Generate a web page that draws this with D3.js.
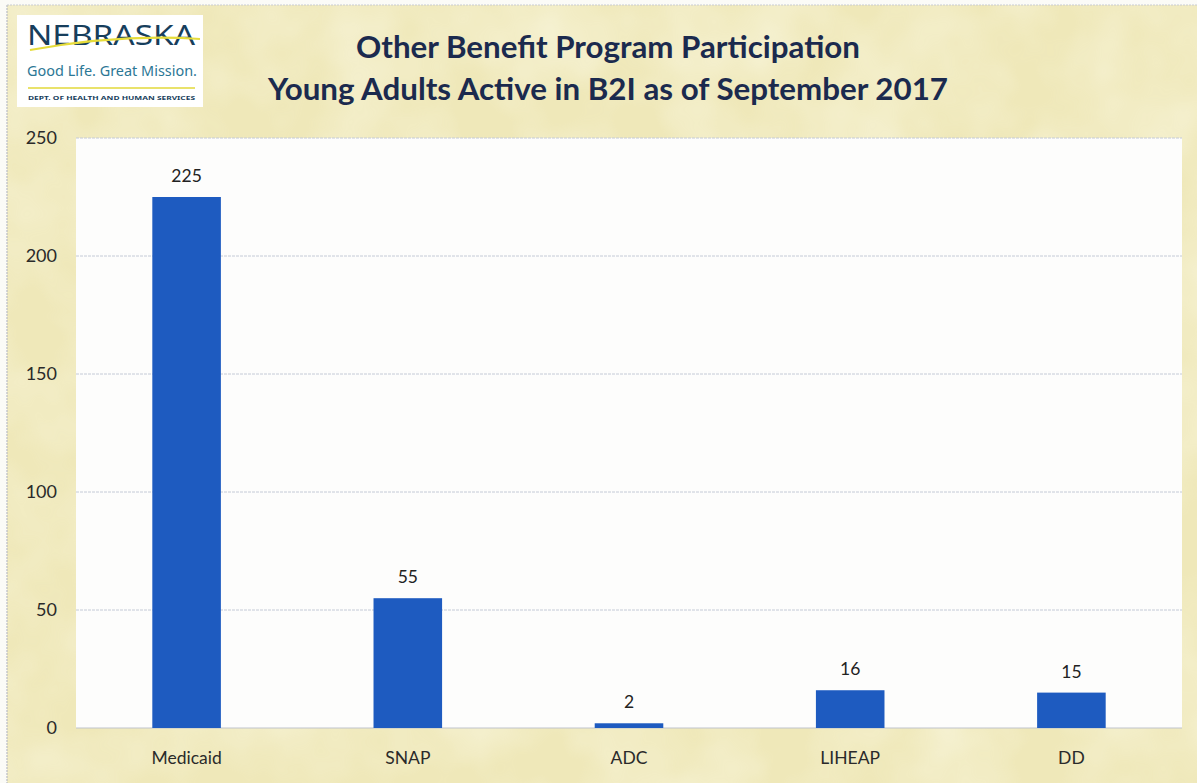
<!DOCTYPE html>
<html>
<head>
<meta charset="utf-8">
<script src="https://cdn.jsdelivr.net/npm/d3@7"></script>
<style>
  html, body { margin: 0; padding: 0; background: #ffffff; }
  svg { display: block; }
</style>
</head>
<body>
<svg id="chart" width="1197" height="783"></svg>
<script>
// Program participation counts
const programs = ["Medicaid", "SNAP", "ADC", "LIHEAP", "DD"];
const participants = [225, 55, 2, 16, 15];
const yTicks = [0, 50, 100, 150, 200, 250];
const titleLines = [
  "Other Benefit Program Participation",
  "Young Adults Active in B2I as of September 2017"
];

const W = 1197, H = 783;
const plot = { left: 76, right: 1182, top: 138, bottom: 728 };
const svg = d3.select("#chart");
const defs = svg.append("defs");

// Paper-like mottled background
const f = defs.append("filter").attr("id", "paper").attr("x", 0).attr("y", 0).attr("width", "100%").attr("height", "100%");
f.append("feTurbulence").attr("type", "fractalNoise").attr("baseFrequency", 0.012).attr("numOctaves", 3).attr("seed", 4).attr("result", "n");
f.append("feColorMatrix").attr("in", "n").attr("type", "matrix")
  .attr("values", "0 0 0 0 1  0 0 0 0 1  0 0 0 0 0.92  0 0 0 -1.1 0.75");

svg.append("rect").attr("width", W).attr("height", H).attr("fill", "#fbfbf7");
svg.append("rect").attr("x", 7).attr("y", 5).attr("width", W - 7).attr("height", H - 5).attr("fill", "#efe8b9");
svg.append("rect").attr("x", 7).attr("y", 5).attr("width", W - 7).attr("height", H - 5).attr("filter", "url(#paper)").attr("opacity", 0.6);
svg.append("line").attr("x1", 7).attr("x2", 7).attr("y1", 5).attr("y2", H)
  .attr("stroke", "#b9bcc4").attr("stroke-width", 1.2).attr("stroke-dasharray", "2,1");
svg.append("line").attr("x1", 7).attr("x2", W).attr("y1", 5).attr("y2", 5)
  .attr("stroke", "#c9ccd2").attr("stroke-width", 1).attr("stroke-dasharray", "2,1");

// Logo block
const logo = svg.append("g");
logo.append("rect").attr("x", 17).attr("y", 15).attr("width", 186).attr("height", 92).attr("fill", "#ffffff");
logo.append("text").attr("x", 27).attr("y", 45).attr("font-family", "'Noto Sans', sans-serif")
  .attr("font-size", 28).attr("font-weight", 400).attr("fill", "#173e5c")
  .attr("textLength", 168).attr("lengthAdjust", "spacingAndGlyphs").text("NEBRASKA");
logo.append("path").attr("d", "M30,50 C80,41 140,35 200,39").attr("fill", "none")
  .attr("stroke", "#e6dc3a").attr("stroke-width", 2.2);
logo.append("text").attr("x", 27).attr("y", 76).attr("font-family", "'Noto Sans', sans-serif")
  .attr("font-size", 13.5).attr("fill", "#2c7795").attr("textLength", 170)
  .attr("lengthAdjust", "spacingAndGlyphs").text("Good Life. Great Mission.");
logo.append("line").attr("x1", 28).attr("x2", 195).attr("y1", 88).attr("y2", 88)
  .attr("stroke", "#e2d93a").attr("stroke-width", 1.6);
logo.append("text").attr("x", 28).attr("y", 100).attr("font-family", "'Noto Sans', sans-serif")
  .attr("font-size", 6).attr("font-weight", 700).attr("fill", "#173e5c").attr("textLength", 167)
  .attr("lengthAdjust", "spacingAndGlyphs").text("DEPT. OF HEALTH AND HUMAN SERVICES");

// Title
svg.append("g").selectAll("text").data(titleLines).join("text")
  .attr("x", 608).attr("y", (d, i) => 58 + i * 42)
  .attr("text-anchor", "middle")
  .attr("font-family", "Lato, 'Open Sans', sans-serif").attr("font-weight", 700)
  .attr("font-size", 31.3).attr("fill", "#1b2a4e")
  .text(d => d);

// Scales
const x = d3.scaleBand().domain(programs).range([plot.left, plot.right])
  .paddingInner(0.69).paddingOuter(0.345);
const y = d3.scaleLinear().domain([0, 250]).range([plot.bottom, plot.top]);

// Plot area
svg.append("rect").attr("x", plot.left).attr("y", plot.top)
  .attr("width", plot.right - plot.left).attr("height", plot.bottom - plot.top)
  .attr("fill", "#fdfdfc");

// Gridlines
svg.append("g").selectAll("line").data(yTicks.filter(t => t > 0)).join("line")
  .attr("x1", plot.left).attr("x2", plot.right)
  .attr("y1", d => y(d)).attr("y2", d => y(d))
  .attr("stroke", "#c4cad6").attr("stroke-width", 1).attr("stroke-dasharray", "3,1");
svg.append("line").attr("x1", plot.left).attr("x2", plot.right)
  .attr("y1", y(0)).attr("y2", y(0)).attr("stroke", "#bfc3cc").attr("stroke-width", 1);

// Y axis labels
const yAxis = d3.axisLeft(y).tickValues(yTicks).tickSize(0).tickPadding(0);
const ya = svg.append("g").attr("transform", `translate(${plot.left - 19},0)`).call(yAxis);
ya.select(".domain").remove();
ya.selectAll("text").attr("font-family", "Lato, 'Open Sans', sans-serif")
  .attr("font-size", 18).attr("fill", "#2a2a2a");

// X axis labels
const xAxis = d3.axisBottom(x).tickSize(0).tickPadding(0);
const xa = svg.append("g").attr("transform", `translate(0,${plot.bottom + 24})`).call(xAxis);
xa.select(".domain").remove();
xa.selectAll("text").attr("font-family", "Lato, 'Open Sans', sans-serif")
  .attr("font-size", 17.5).attr("fill", "#2a2a2a");

// Bars
const data = programs.map((p, i) => ({ p, v: participants[i] }));
svg.append("g").selectAll("rect").data(data).join("rect")
  .attr("x", d => x(d.p)).attr("width", x.bandwidth())
  .attr("y", d => y(d.v)).attr("height", d => y(0) - y(d.v))
  .attr("fill", "#1e5bc0");

// Value labels
svg.append("g").selectAll("text").data(data).join("text")
  .attr("x", d => x(d.p) + x.bandwidth() / 2).attr("y", d => y(d.v) - 15)
  .attr("text-anchor", "middle")
  .attr("font-family", "Lato, 'Open Sans', sans-serif").attr("font-size", 17.5).attr("fill", "#222")
  .text(d => d.v);
</script>
</body>
</html>
